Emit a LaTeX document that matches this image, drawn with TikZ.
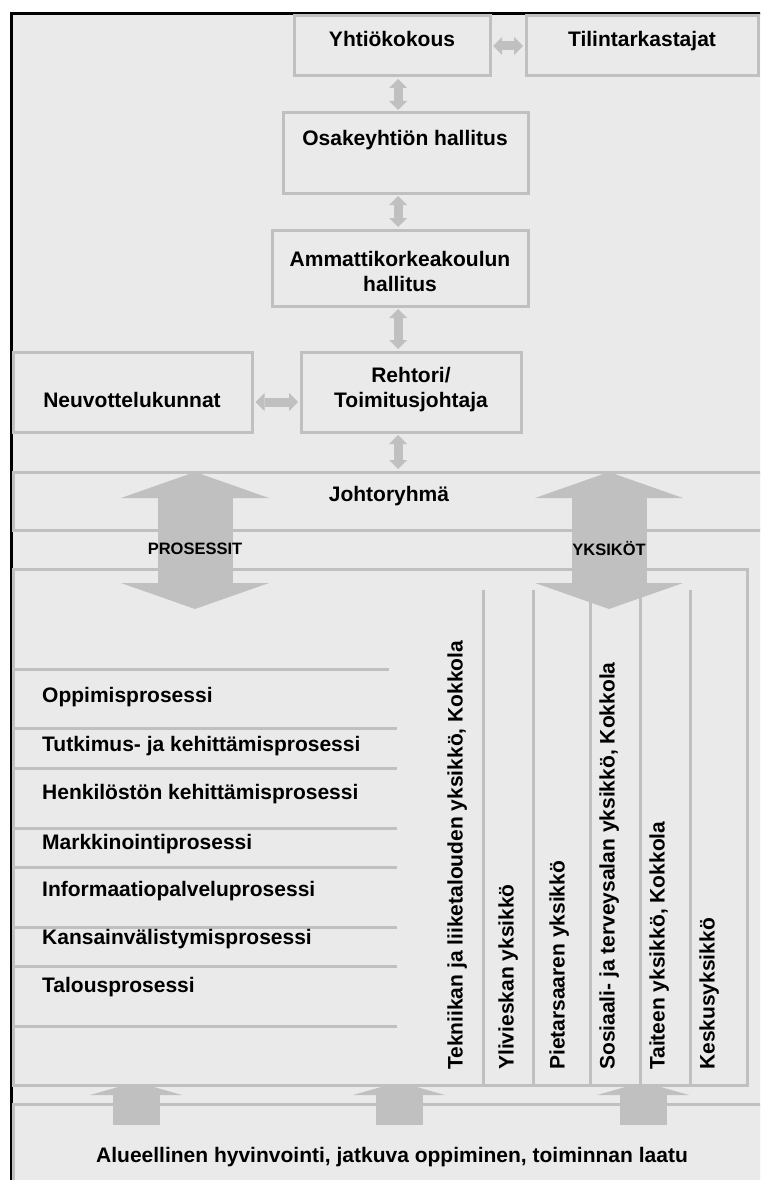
\documentclass[tikz,border=0pt]{standalone}
\usepackage{fontspec}
\setmainfont{Liberation Sans}
\usetikzlibrary{arrows.meta,calc}
\definecolor{paper}{HTML}{EAEAEA}
\definecolor{rule}{HTML}{C0C0C0}
\tikzset{
  box/.style={rectangle, draw=rule, fill=paper, line width=3pt, inner sep=0pt,
    outer sep=0pt, anchor=north west},
  lbl/.style={font=\bfseries\fontsize{21}{25}\selectfont, inner sep=0pt, align=center},
  tag/.style={font=\bfseries\fontsize{16.5}{19}\selectfont, inner sep=0pt},
  unit/.style={lbl, rotate=90, anchor=base west},
  proc/.style={lbl, anchor=base west},
  link/.style={draw=rule, line width=9pt, shorten <=3pt, shorten >=3pt,
    {Triangle[width=18pt,length=9pt,line width=0pt]}-{Triangle[width=18pt,length=9pt,line width=0pt]}},
  bigarrow/.style={draw=rule, line width=75pt,
    {Triangle[width=148pt,length=26pt,line width=0pt]}-{Triangle[width=148pt,length=26pt,line width=0pt]}},
  uparrow/.style={draw=rule, line width=47pt,
    -{Triangle[width=92pt,length=13pt,line width=0pt]}},
  divider/.style={draw=rule, line width=3pt},
}
\begin{document}
\begin{tikzpicture}[x=1pt,y=-1pt]
\useasboundingbox (0,0) rectangle (760,1180);
\clip (0,0) rectangle (760,1180);

% sheet and its black frame
\fill[paper] (10,13) rectangle (800,1220);
\draw[black, line width=3pt] (11.5,1220) -- (11.5,14) -- (800,14);

% spine of the chain of command
\coordinate (spine) at (398,0);

% governing bodies
\node[box, minimum width=196pt, minimum height=60pt] (yk) at (294,16) {};
\node[box, minimum width=232pt, minimum height=60pt] (tt) at (526,16) {};
\node[box, minimum width=245pt, minimum height=80pt] (osh) at (283,113) {};
\node[box, minimum width=256pt, minimum height=76pt] (amk) at (272,230) {};
\node[box, minimum width=239pt, minimum height=80pt] (neu) at (13.5,352) {};
\node[box, minimum width=220pt, minimum height=80pt] (rek) at (301,352) {};

\node[lbl, anchor=base] (yk-t) at (392,46.5) {Yhtiökokous};
\node[lbl, anchor=base] (tt-t) at (642,46.5) {Tilintarkastajat};
\node[lbl, anchor=base] (osh-t) at (405,145.5) {Osakeyhtiön hallitus};
\node[lbl] (amk-t) at (400,271.5) {Ammattikorkeakoulun\\hallitus};
\node[lbl, anchor=base] (neu-t) at (132,407.5) {Neuvottelukunnat};
\node[lbl] (rek-t) at (411,389.5) {Rehtori/\\Toimitusjohtaja};

% management group band
\node[box, minimum width=790pt, minimum height=58pt] (jr) at (13.5,472) {};
\node[lbl, anchor=base] (jr-t) at (389,501.5) {Johtoryhmä};

% regional outcome band and its arrows
\node[box, minimum width=790pt, minimum height=120pt] (al) at (13.5,1104) {};
\node[lbl, anchor=base] (al-t) at (392,1162.5) {Alueellinen hyvinvointi, jatkuva oppiminen, toiminnan laatu};
\coordinate (u1a) at (136,1125); \coordinate (u1b) at (136,1082);
\coordinate (u2a) at (399,1125); \coordinate (u2b) at (399,1082);
\coordinate (u3a) at (643,1125); \coordinate (u3b) at (643,1082);
\draw[uparrow] (u1a) -- (u1b);
\draw[uparrow] (u2a) -- (u2b);
\draw[uparrow] (u3a) -- (u3b);

% processes and units
\node[box, minimum width=733.5pt, minimum height=516pt] (pu) at (13.5,569) {};
\foreach \x in {483,533,590,640,690}
  \draw[divider] (\x,590) -- (\x,1085);
\draw[divider] (13.5,669) -- (389,669);
\foreach \y in {728,768,828,867,927,966,1026}
  \draw[divider] (13.5,\y) -- (397,\y);

\node[proc] (p1) at (42,702.5) {Oppimisprosessi};
\node[proc] (p2) at (42,751.5) {Tutkimus- ja kehittämisprosessi};
\node[proc] (p3) at (42,799.5) {Henkilöstön kehittämisprosessi};
\node[proc] (p4) at (42,849.5) {Markkinointiprosessi};
\node[proc] (p5) at (42,896.5) {Informaatiopalveluprosessi};
\node[proc] (p6) at (42,944.5) {Kansainvälistymisprosessi};
\node[proc] (p7) at (42,992.5) {Talousprosessi};

\node[unit] (y1) at (462.5,1070) {Tekniikan ja liiketalouden yksikkö, Kokkola};
\node[unit] (y2) at (513.5,1070) {Ylivieskan yksikkö};
\node[unit] (y3) at (564.5,1070) {Pietarsaaren yksikkö};
\node[unit] (y4) at (614.5,1070) {Sosiaali- ja terveysalan yksikkö, Kokkola};
\node[unit] (y5) at (664.5,1070) {Taiteen yksikkö, Kokkola};
\node[unit] (y6) at (714.5,1070) {Keskusyksikkö};

% two-way flows between management and the matrix
\coordinate (pa1) at (195,472); \coordinate (pa2) at (195,609);
\coordinate (ya1) at (609,472); \coordinate (ya2) at (609,609);
\draw[bigarrow] (pa1) -- (pa2);
\draw[bigarrow] (ya1) -- (ya2);
\node[tag] (pr-t) at (195,549) {PROSESSIT};
\node[tag] (yks-t) at (609,549) {YKSIKÖT};

% links between the bodies
\draw[link] (yk.east) -- (tt.west);
\draw[link] (yk.south -| spine) -- (osh.north -| spine);
\draw[link] (osh.south -| spine) -- (amk.north -| spine);
\draw[link] (amk.south -| spine) -- (rek.north -| spine);
\draw[link] ([yshift=-10pt]neu.east) -- ([yshift=-10pt]rek.west);
\draw[link] (rek.south -| spine) -- (jr.north -| spine);
\end{tikzpicture}
\end{document}
